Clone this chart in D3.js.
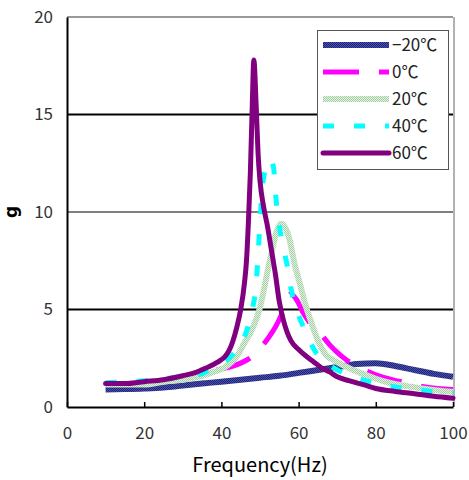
<!DOCTYPE html>
<html>
<head>
<meta charset="utf-8">
<script src="https://cdn.jsdelivr.net/npm/d3@7"></script>
<style>
  body { margin: 0; background: #fff; }
  text { font-family: "Noto Sans CJK KR", "DejaVu Sans", sans-serif; }
</style>
</head>
<body>
<script>
// frequency response, one array per temperature
var freqM20 = [10, 15, 20, 25, 30, 35, 40, 45, 50, 55, 60, 65, 70, 75, 80, 85, 90, 95, 100];
var gM20    = [0.9, 0.92, 0.95, 1.0, 1.1, 1.2, 1.3, 1.4, 1.5, 1.6, 1.75, 1.9, 2.05, 2.2, 2.25, 2.1, 1.9, 1.7, 1.55];

var freq0 = [10, 15, 20, 25, 30, 35, 40, 43, 45, 48, 50, 52, 54, 55.5, 57, 58, 59.5, 61, 63, 65.5, 68, 70, 72.5, 76, 80, 84, 88, 92, 96, 100];
var g0    = [1.2, 1.2, 1.25, 1.35, 1.5, 1.7, 1.95, 2.1, 2.25, 2.6, 3.0, 3.5, 4.1, 4.7, 5.5, 5.8, 5.5, 4.9, 4.3, 3.8, 3.2, 2.8, 2.4, 2.0, 1.65, 1.42, 1.23, 1.05, 0.95, 0.9];

var freq20 = [10, 15, 20, 25, 30, 35, 38, 41, 44, 46, 48, 50, 51, 52, 53, 54, 55.5, 56.5, 57.5, 59, 60.5, 62, 63, 65, 67, 70, 73, 76, 80, 84, 88, 92, 96, 100];
var g20    = [1.15, 1.15, 1.15, 1.3, 1.4, 1.6, 1.8, 2.05, 2.6, 3.3, 4.0, 5.1, 6.0, 7.0, 7.9, 8.8, 9.4, 9.2, 8.7, 7.3, 6.2, 5.1, 4.5, 3.4, 2.7, 2.3, 2.0, 1.75, 1.45, 1.22, 1.07, 0.95, 0.85, 0.77];

var freq40 = [10, 15, 20, 25, 30, 34, 37, 40, 43, 45, 47, 48, 49, 49.5, 50, 50.5, 51.5, 52.5, 53.5, 54, 55, 56, 57, 58, 60, 62, 64, 67, 70, 75, 80, 85, 90, 95, 100];
var g40    = [1.25, 1.3, 1.35, 1.45, 1.55, 1.65, 1.9, 2.2, 2.7, 3.2, 4.2, 5.0, 6.3, 7.8, 9.5, 11, 12.3, 12.7, 12.3, 11, 9.3, 8.2, 7.3, 6.1, 4.7, 3.8, 2.95, 2.3, 1.9, 1.5, 1.22, 1.03, 0.9, 0.78, 0.7];

var freq60 = [10, 15, 20, 25, 30, 33, 36, 39, 41, 42, 43, 44, 45, 46, 46.5, 47, 47.5, 48, 48.4, 49, 49.5, 50, 51, 52, 53, 54, 55, 56, 57, 58, 60, 62, 64, 66, 68, 70, 73, 77, 80, 85, 90, 95, 100];
var g60    = [1.2, 1.2, 1.3, 1.4, 1.6, 1.75, 2.0, 2.3, 2.6, 2.9, 3.4, 4.1, 5.0, 6.4, 7.5, 9.5, 12, 15.5, 17.8, 15.5, 13, 11.6, 10.2, 9.2, 8.0, 6.8, 5.4, 4.5, 3.85, 3.4, 2.95, 2.6, 2.3, 2.0, 1.8, 1.55, 1.35, 1.13, 0.95, 0.8, 0.68, 0.55, 0.45];

var seriesNames = ["\u221220\u2103", "0\u2103", "20\u2103", "40\u2103", "60\u2103"];
var xTicks = [0, 20, 40, 60, 80, 100];
var yTicks = [0, 5, 10, 15, 20];

var W = 469, H = 480;
var plotL = 67, plotR = 453, plotT = 17, plotB = 407;

var svg = d3.select("body").append("svg")
  .attr("width", W)
  .attr("height", H);

// hatched textures for the two patterned lines
var defs = svg.append("defs");
function checker(id, c1, c2) {
  var p = defs.append("pattern")
    .attr("id", id)
    .attr("patternUnits", "userSpaceOnUse")
    .attr("width", 2).attr("height", 2);
  p.append("rect").attr("width", 2).attr("height", 2).attr("fill", c2);
  p.append("rect").attr("width", 1).attr("height", 1).attr("fill", c1);
  p.append("rect").attr("x", 1).attr("y", 1).attr("width", 1).attr("height", 1).attr("fill", c1);
}
checker("navyHatch", "#1f237a", "#4b50a8");
checker("greenHatch", "#a3cfa3", "#e4f2e4");

var x = d3.scaleLinear().domain([0, 100]).range([plotL, plotR]);
var y = d3.scaleLinear().domain([0, 20]).range([plotB, plotT]);

// frame, top and right in grey
svg.append("line")
  .attr("x1", plotL).attr("x2", plotR).attr("y1", plotT).attr("y2", plotT)
  .attr("stroke", "#777").attr("stroke-width", 1.5);
svg.append("line")
  .attr("x1", plotR + 1).attr("x2", plotR + 1).attr("y1", plotT).attr("y2", plotB)
  .attr("stroke", "#999").attr("stroke-width", 1.5);

// gridlines
svg.selectAll(".grid")
  .data(yTicks.filter(function(d) { return d > 0 && d < 20; }))
  .enter().append("line")
  .attr("class", "grid")
  .attr("x1", plotL).attr("x2", plotR)
  .attr("y1", function(d) { return y(d); })
  .attr("y2", function(d) { return y(d); })
  .attr("stroke", "#000")
  .attr("stroke-width", function(d) { return d == 10 ? 1 : 2; });

// axes
var xAxis = svg.append("g")
  .attr("transform", "translate(0," + plotB + ")")
  .call(d3.axisBottom(x).tickValues(xTicks).tickSizeInner(-5).tickSizeOuter(0).tickPadding(20));
xAxis.select(".domain").attr("stroke", "#000").attr("stroke-width", 2);
xAxis.selectAll(".tick line").attr("stroke", "#000").attr("stroke-width", 1.5);
xAxis.selectAll(".tick text")
  .attr("fill", "#333")
  .style("font-size", "17px")
  .style("font-family", "'Noto Sans CJK KR', 'DejaVu Sans', sans-serif");

var yAxis = svg.append("g")
  .attr("transform", "translate(" + plotL + ",0)")
  .call(d3.axisLeft(y).tickValues(yTicks).tickSize(0).tickPadding(14));
yAxis.select(".domain").attr("stroke", "#000").attr("stroke-width", 2);
yAxis.selectAll(".tick text")
  .attr("fill", "#333")
  .style("font-size", "17px")
  .style("font-family", "'Noto Sans CJK KR', 'DejaVu Sans', sans-serif");

// axis titles
svg.append("text")
  .attr("x", 260).attr("y", 472)
  .attr("text-anchor", "middle")
  .style("font-size", "20px")
  .text("Frequency(Hz)");

svg.append("text")
  .attr("transform", "translate(17,212) rotate(-90)")
  .attr("text-anchor", "middle")
  .style("font-family", "'DejaVu Sans', sans-serif")
  .style("font-size", "17px")
  .style("font-weight", "bold")
  .text("g");

// series
var styles = [
  { stroke: "url(#navyHatch)", width: 6, dash: null },
  { stroke: "#ff00ff", width: 5, dash: "36,20" },
  { stroke: "url(#greenHatch)", width: 6, dash: null },
  { stroke: "#00ffff", width: 5, dash: "11,20" },
  { stroke: "#800080", width: 5, dash: null }
];
var freqs = [freqM20, freq0, freq20, freq40, freq60];
var vals = [gM20, g0, g20, g40, g60];

var line = d3.line()
  .x(function(d) { return x(d[0]); })
  .y(function(d) { return y(d[1]); })
  .curve(d3.curveMonotoneX);

for (var i = 0; i < 5; i++) {
  var pts = d3.zip(freqs[i], vals[i]);
  svg.append("path")
    .datum(pts)
    .attr("d", line)
    .attr("fill", "none")
    .attr("stroke", styles[i].stroke)
    .attr("stroke-width", styles[i].width)
    .attr("stroke-dasharray", styles[i].dash)
    .attr("stroke-linejoin", "round")
    .attr("stroke-linecap", i == 4 ? "round" : "butt");
}

// legend
var lg = svg.append("g");
lg.append("rect")
  .attr("x", 317.5).attr("y", 30.5).attr("width", 131).attr("height", 139)
  .attr("fill", "#fff").attr("stroke", "#555").attr("stroke-width", 1);
var rowY = [45, 72, 99, 126, 153];
seriesNames.forEach(function(name, i) {
  lg.append("line")
    .attr("x1", 323).attr("x2", 389)
    .attr("y1", rowY[i]).attr("y2", rowY[i])
    .attr("stroke", styles[i].stroke)
    .attr("stroke-width", styles[i].width)
    .attr("stroke-dasharray", styles[i].dash)
    .attr("stroke-linecap", i == 4 ? "round" : "butt");
  lg.append("text")
    .attr("x", 392).attr("y", rowY[i] + 6)
    .attr("fill", "#222")
    .style("font-size", "17px")
    .text(name);
});
</script>
</body>
</html>
